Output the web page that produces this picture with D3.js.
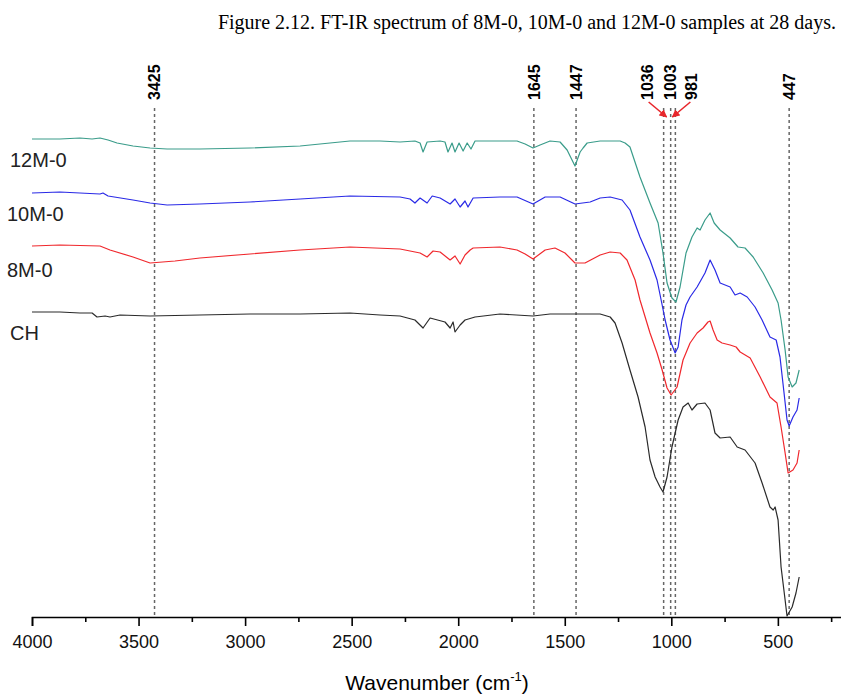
<!DOCTYPE html>
<html lang="en">
<head>
<meta charset="UTF-8">
<title>FT-IR spectrum of 8M-0, 10M-0 and 12M-0</title>
<style>
  body { margin: 0; background: #fff; }
  svg { display: block; font-family: "Liberation Sans", Arial, sans-serif; }
</style>
</head>
<body>
<svg id="chart"></svg>
<script src="https://d3js.org/d3.v7.min.js"></script>
<script>
// spectra: [wavenumber (cm-1), transmittance (a.u., offset)]
const spec12M = [[4000,478],[3869,478],[3775,479],[3718,478],[3681,479],[3643,477],[3601,474],[3526,471],[3446,469],[3366,468],[3212,468],[2977,469],[2742,471],[2508,476],[2367,476],[2273,475],[2203,476],[2179,474],[2165,465],[2146,475],[2085,476],[2062,475],[2048,465],[2029,474],[2015,465],[1996,474],[1977,466],[1958,474],[1940,468],[1921,476],[1804,476],[1724,476],[1686,473],[1649,469],[1616,472],[1569,476],[1522,475],[1489,467],[1452,451],[1428,465],[1414,469],[1395,474],[1334,476],[1240,476],[1217,474],[1194,470],[1147,440],[1100,414],[1062,394],[1039,364],[1020,334],[997,319],[978,315],[959,330],[931,364],[903,380],[879,389],[865,387],[842,397],[818,404],[799,394],[771,387],[724,379],[687,370],[654,369],[616,360],[569,344],[527,327],[499,314],[485,297],[466,267],[452,240],[433,230],[415,234],[400,247]];
const spec10M = [[4000,424],[3869,425],[3775,424],[3681,423],[3667,424],[3643,421],[3526,417],[3446,414],[3366,412],[3212,413],[2977,415],[2742,418],[2508,421],[2273,420],[2226,418],[2203,414],[2179,419],[2146,414],[2122,421],[2085,419],[2038,413],[2015,418],[1991,410],[1968,416],[1954,410],[1930,419],[1804,420],[1724,420],[1649,413],[1592,420],[1522,420],[1452,413],[1381,415],[1334,419],[1287,420],[1231,417],[1194,407],[1147,380],[1100,357],[1067,337],[1043,312],[1029,297],[1006,277],[982,264],[968,270],[950,297],[931,312],[912,320],[879,330],[842,344],[818,357],[795,347],[771,334],[724,330],[701,322],[677,324],[644,320],[607,310],[574,297],[537,280],[508,277],[490,260],[471,224],[457,197],[447,191],[429,200],[410,207],[400,219]];
const spec8M = [[4000,371],[3869,372],[3681,371],[3634,367],[3526,360],[3446,354],[3329,356],[3212,359],[2977,363],[2742,367],[2508,370],[2273,368],[2179,364],[2146,360],[2118,366],[2085,365],[2038,357],[2015,361],[1991,353],[1968,362],[1944,367],[1930,369],[1804,370],[1724,367],[1686,363],[1649,358],[1592,367],[1546,369],[1499,364],[1452,354],[1405,354],[1334,362],[1287,365],[1240,364],[1208,357],[1170,337],[1147,317],[1100,284],[1067,264],[1043,247],[1020,229],[1001,222],[973,230],[945,257],[912,274],[879,284],[851,289],[828,295],[818,296],[804,287],[785,277],[762,274],[724,272],[696,270],[677,265],[630,259],[583,240],[537,220],[504,214],[485,190],[466,164],[452,144],[429,147],[410,154],[400,167]];
const specCH = [[4000,305],[3869,305],[3775,304],[3718,304],[3695,300],[3657,301],[3634,300],[3587,302],[3446,301],[3212,302],[2977,303],[2742,303],[2508,304],[2367,302],[2273,301],[2203,297],[2165,289],[2132,299],[2062,295],[2038,289],[2024,295],[2015,285],[1991,292],[1968,297],[1921,300],[1804,303],[1649,301],[1569,303],[1452,303],[1334,303],[1287,300],[1264,294],[1231,274],[1194,247],[1156,220],[1123,190],[1100,157],[1076,140],[1053,130],[1039,125],[1020,140],[997,170],[968,197],[945,210],[921,214],[903,207],[879,213],[842,214],[818,207],[795,184],[771,179],[724,180],[691,170],[654,167],[607,154],[574,134],[537,110],[522,107],[513,110],[499,97],[485,50],[466,17],[457,1],[433,10],[415,24],[400,40]];

const seriesNames = ["12M-0", "10M-0", "8M-0", "CH"];
const seriesData = [spec12M, spec10M, spec8M, specCH];
const seriesColors = ["#3a9c8a", "#2a2ae6", "#f0282d", "#2a2a2a"];

const peaks = [3425, 1645, 1447, 1036, 1003, 981, 447];
const majorTicks = [4000, 3500, 3000, 2500, 2000, 1500, 1000, 500];
const minorTicks = [3750, 3250, 2750, 2250, 1750, 1250, 750, 250];

const width = 841, height = 695;

const svg = d3.select("#chart")
    .attr("width", width)
    .attr("height", height);

const x = d3.scaleLinear().domain([4000, 200]).range([32, 841.8]);
const y = d3.scaleLinear().domain([0, 500]).range([617, 117]);

// title
svg.append("text")
    .attr("x", 836)
    .attr("y", 29)
    .attr("text-anchor", "end")
    .style("font-family", "'Liberation Serif', 'Times New Roman', serif")
    .style("font-size", "20px")
    .text("Figure 2.12. FT-IR spectrum of 8M-0, 10M-0 and 12M-0 samples at 28 days.");

// dashed peak markers
const labelShift = { 1036: -16, 981: 16 };
const peakG = svg.append("g");
peakG.selectAll("line")
    .data(peaks)
    .enter().append("line")
    .attr("x1", d => x(d)).attr("x2", d => x(d))
    .attr("y1", 108).attr("y2", 617)
    .attr("stroke", "#666")
    .attr("stroke-width", 1.5)
    .attr("stroke-dasharray", "3,3");

peakG.selectAll("text")
    .data(peaks)
    .enter().append("text")
    .attr("transform", d => `translate(${x(d) + (labelShift[d] || 0)},100) rotate(-90)`)
    .attr("dy", "0.36em")
    .style("font-size", "16px")
    .style("font-weight", "bold")
    .text(d => d);

// red arrows for the crowded labels
svg.append("defs").append("marker")
    .attr("id", "arrow")
    .attr("viewBox", "0 0 10 10")
    .attr("refX", 9).attr("refY", 5)
    .attr("markerWidth", 5).attr("markerHeight", 5)
    .attr("orient", "auto")
    .append("path")
    .attr("d", "M0,0L10,5L0,10z")
    .attr("fill", "#e8262b");

svg.append("g").selectAll("line")
    .data(peaks.filter(d => labelShift[d]))
    .enter().append("line")
    .attr("x1", d => x(d) + labelShift[d] - Math.sign(labelShift[d]))
    .attr("y1", 102)
    .attr("x2", d => x(d) - Math.sign(labelShift[d]) * 3)
    .attr("y2", 117)
    .attr("stroke", "#e8262b")
    .attr("stroke-width", 1.6)
    .attr("marker-end", "url(#arrow)");

// spectra
const line = d3.line()
    .x(d => x(d[0]))
    .y(d => y(d[1]))
    .curve(d3.curveLinear);

svg.append("g").selectAll("path")
    .data(seriesData)
    .enter().append("path")
    .attr("d", line)
    .attr("fill", "none")
    .attr("stroke", (d, i) => seriesColors[i])
    .attr("stroke-width", 1.2)
    .attr("stroke-linejoin", "round");

svg.append("g").selectAll("text")
    .data(seriesData)
    .enter().append("text")
    .attr("x", (d, i) => i === 0 || i === 3 ? 10 : 7)
    .attr("y", (d, i) => y(d[0][1]) + (i === 2 ? 31 : 28))
    .style("font-size", "20px")
    .attr("fill", "#222")
    .text((d, i) => seriesNames[i]);

// x axis
const axisMajor = d3.axisBottom(x)
    .tickValues(majorTicks)
    .tickSize(9)
    .tickFormat(d3.format("d"));
const axisMinor = d3.axisBottom(x)
    .tickValues(minorTicks)
    .tickSize(5)
    .tickFormat("");

const gx = svg.append("g").attr("transform", "translate(0,617)").call(axisMajor);
svg.append("g").attr("transform", "translate(0,617)").call(axisMinor)
    .select(".domain").remove();

gx.select(".domain").attr("stroke-width", 1.6);
svg.selectAll(".tick line").attr("stroke-width", 1.6);
gx.selectAll(".tick text")
    .attr("y", 18)
    .style("font-size", "18px")
    .style("font-family", "'Liberation Sans', Arial, sans-serif")
    .attr("fill", "#111");

// axis title
const xt = svg.append("text")
    .attr("x", 437)
    .attr("y", 690)
    .attr("text-anchor", "middle")
    .style("font-size", "21px");
xt.append("tspan").text("Wavenumber (cm");
xt.append("tspan").attr("dy", -9).style("font-size", "13px").text("-1");
xt.append("tspan").attr("dy", 9).text(")");
</script>
</body>
</html>
